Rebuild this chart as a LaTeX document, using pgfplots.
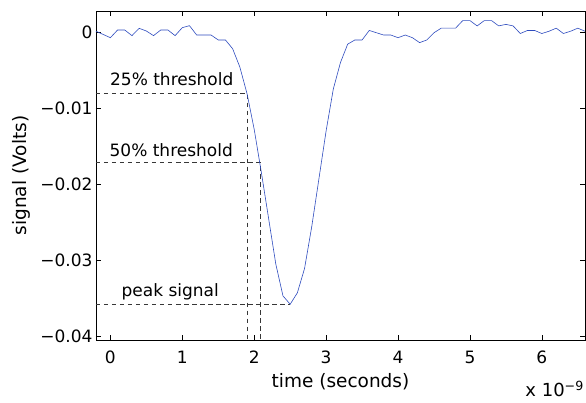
\documentclass[border=0pt]{standalone}
\usepackage{fontspec}
\setmainfont{DejaVu Sans}
\usepackage{pgfplots}
\pgfplotsset{compat=1.18}
\definecolor{sigblue}{RGB}{45,75,190}
\definecolor{dashgray}{RGB}{55,55,55}
\begin{document}
\begin{tikzpicture}
\begin{axis}[
  scale only axis, width=489pt, height=329pt,
  xmin=-0.2, xmax=6.6, ymin=-0.0405, ymax=0.00276,
  xtick={0,1,2,3,4,5,6}, xticklabels={0,1,2,3,4,5,6},
  ytick={-0.04,-0.03,-0.02,-0.01,0},
  yticklabels={−0.04,−0.03,−0.02,−0.01,0},
  scaled x ticks=false, scaled y ticks=false,
  tick align=inside, major tick length=5pt,
  axis line style={line width=0.8pt},
  every tick/.style={black, line width=0.7pt},
  tick label style={font=\fontsize{17}{20}\selectfont},
  xticklabel style={anchor=base, yshift=-24pt},
  xlabel={time (seconds)}, ylabel={signal (Volts)},
  every axis x label/.style={at={(axis description cs:0.5,-0.143)}, anchor=base,
    font=\fontsize{18.5}{22}\selectfont},
  every axis y label/.style={at={(axis description cs:-0.1534,0.5)}, rotate=90, anchor=center,
    font=\fontsize{18.5}{22}\selectfont},
  guide/.style={dashgray, line width=0.6pt, dash pattern=on 4.5pt off 3.5pt},
  clip=false,
]
% dashed threshold guides
\addplot[guide] coordinates {(-0.2,-0.0081) (1.9,-0.0081) (1.9,-0.0405)};
\addplot[guide] coordinates {(-0.2,-0.0171) (2.08,-0.0171) (2.08,-0.0405)};
\addplot[guide] coordinates {(-0.2,-0.0358) (2.5,-0.0358)};
% the signal, x in units of 1e-9 s
\addplot[sigblue, line width=0.6pt] table {
x y
-0.2 0.0001
0.0 -0.00075
0.1 0.00026
0.2 0.00026
0.3 -0.00048
0.4 0.00048
0.5 0.00013
0.6 -0.00048
0.7 0.00026
0.8 0.00026
0.9 -0.00048
1.0 0.00057
1.1 0.00083
1.2 -0.0004
1.3 -0.0004
1.4 -0.0004
1.5 -0.00105
1.6 -0.00105
1.7 -0.0022
1.8 -0.0046
1.9 -0.0081
2.0 -0.0128
2.1 -0.0185
2.2 -0.0245
2.3 -0.0305
2.4 -0.0347
2.5 -0.0358
2.6 -0.0343
2.7 -0.0311
2.8 -0.0256
2.9 -0.0193
3.0 -0.0130
3.1 -0.0075
3.2 -0.0040
3.3 -0.0016
3.4 -0.00105
3.5 -0.00105
3.6 0.0002
3.7 -0.0001
3.8 -0.0004
3.9 -0.0004
4.0 -0.00075
4.1 -0.0004
4.2 -0.00075
4.3 -0.0014
4.4 -0.00105
4.5 -0.0001
4.6 0.0005
4.7 0.0005
4.8 0.0005
4.9 0.0015
5.0 0.0015
5.1 0.0008
5.2 0.0015
5.3 0.0015
5.4 0.0008
5.5 0.001
5.6 0.0008
5.7 -0.0002
5.8 0.0002
5.9 0.0002
6.0 -0.0002
6.1 0.0001
6.2 0.0005
6.3 -0.0002
6.4 0.0001
6.5 0.0005
6.6 0.0001
};
\node[anchor=base, font=\fontsize{17}{20}\selectfont, inner sep=0pt] at (axis cs:0.854,-0.0071) {25\% threshold};
\node[anchor=base, font=\fontsize{17}{20}\selectfont, inner sep=0pt] at (axis cs:0.847,-0.01632) {50\% threshold};
\node[anchor=base, font=\fontsize{17}{20}\selectfont, inner sep=0pt] at (axis cs:0.833,-0.03474) {peak signal};
\node[anchor=base east, font=\fontsize{18}{20}\selectfont, inner sep=0pt] at ([xshift=-1pt,yshift=-57pt]rel axis cs:1,0) {x 10\textsuperscript{−9}};
\end{axis}
\pgfresetboundingbox
\path[use as bounding box] ([xshift=-96pt,yshift=-63pt]current axis.south west) rectangle ([xshift=1pt,yshift=11pt]current axis.north east);
\end{tikzpicture}
\end{document}
